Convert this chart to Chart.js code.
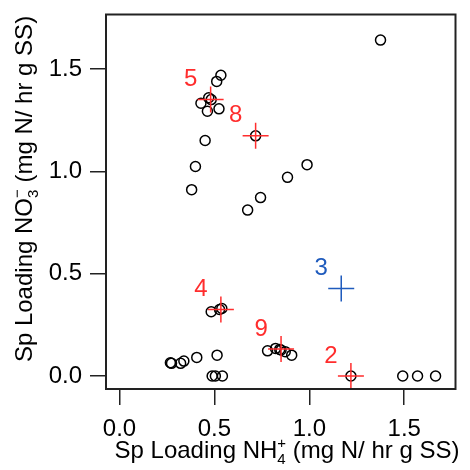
<!DOCTYPE html>
<html>
<head>
<meta charset="utf-8">
<script src="https://cdn.jsdelivr.net/npm/chart.js@4"></script>
<style>
  body { margin: 0; background: #fff; }
  #wrap { width: 470px; height: 470px; }
</style>
</head>
<body>
<div id="wrap"><canvas id="myChart" width="470" height="470"></canvas></div>
<script>
// open circles (all samples)
const sampleX = [1.375, 0.534, 0.512, 0.483, 0.470, 0.429, 0.463, 0.524, 0.717, 0.451, 0.400, 0.988,
                 0.885, 0.380, 0.743, 0.675, 0.483, 0.539, 0.527, 0.268, 0.274, 0.322, 0.339, 0.407,
                 0.514, 0.488, 0.505, 0.542, 0.780, 0.822, 0.844, 0.851, 0.873, 0.907, 1.219, 1.492,
                 1.570, 1.665];
const sampleY = [1.642, 1.470, 1.440, 1.351, 1.360, 1.333, 1.294, 1.306, 1.174, 1.151, 1.024, 1.033,
                 0.971, 0.911, 0.872, 0.811, 0.314, 0.330, 0.325, 0.065, 0.062, 0.062, 0.073, 0.091,
                 0.102, 0.000, 0.000, 0.000, 0.123, 0.135, 0.130, 0.127, 0.119, 0.102, 0.000, 0.000,
                 0.000, 0.000];

// numbered reactors (crosses)
const redIds = ["5", "8", "4", "9", "2"];
const redX = [0.480, 0.717, 0.534, 0.851, 1.219];
const redY = [1.351, 1.174, 0.325, 0.132, 0.000];
const blueIds = ["3"];
const blueX = [1.168];
const blueY = [0.428];

const xTicks = [0, 0.5, 1.0, 1.5];
const yTicks = [0, 0.5, 1.0, 1.5];

const FONT = "'Liberation Sans', Arial, Helvetica, sans-serif";
const RED = "#ff2d2d";
const BLUE = "#1f5bbd";

const toPts = (xs, ys) => xs.map((x, i) => ({ x: x, y: ys[i] }));

// box, axis titles and cross numbers
const extras = {
    id: "extras",
    afterDraw(chart) {
        const { ctx, chartArea: ca, scales } = chart;
        ctx.save();
        ctx.strokeStyle = "#222";
        ctx.lineWidth = 2;
        ctx.strokeRect(ca.left, ca.top, ca.right - ca.left, ca.bottom - ca.top);

        // numbers next to crosses
        ctx.font = "24px " + FONT;
        ctx.textAlign = "center";
        ctx.textBaseline = "middle";
        const lab = (ids, xs, ys, col) => {
            ids.forEach((id, i) => {
                ctx.fillStyle = col;
                ctx.fillText(id, scales.x.getPixelForValue(xs[i]) - 20, scales.y.getPixelForValue(ys[i]) - 20);
            });
        };
        lab(redIds, redX, redY, RED);
        lab(blueIds, blueX, blueY, BLUE);

        // axis title with stacked sup/sub
        const title = (pre, sup, sub, post) => {
            ctx.font = "24px " + FONT;
            const w1 = ctx.measureText(pre).width;
            const w3 = ctx.measureText(post).width;
            ctx.font = "15px " + FONT;
            const w2 = Math.max(ctx.measureText(sup).width, ctx.measureText(sub).width);
            return { w: w1 + w2 + w3, draw(x0, base) {
                ctx.fillStyle = "#000";
                ctx.textAlign = "left";
                ctx.textBaseline = "alphabetic";
                ctx.font = "24px " + FONT;
                ctx.fillText(pre, x0, base);
                ctx.font = "15px " + FONT;
                ctx.fillText(sup, x0 + w1, base - 10);
                ctx.fillText(sub, x0 + w1, base + 6);
                ctx.font = "24px " + FONT;
                ctx.fillText(post, x0 + w1 + w2, base);
            } };
        };
        const xt = title("Sp Loading NH", "+", "4", " (mg N/ hr g SS)");
        xt.draw(287 - xt.w / 2, 458);
        const yt = title("Sp Loading NO", "\u2212", "3", " (mg N/ hr g SS)");
        ctx.translate(32, 189);
        ctx.rotate(-Math.PI / 2);
        yt.draw(-yt.w / 2, 0);
        ctx.restore();
    }
};

new Chart(document.getElementById("myChart"), {
    type: "scatter",
    data: {
        datasets: [{
            data: toPts(blueX, blueY),
            pointStyle: "cross",
            radius: 13,
            borderColor: BLUE,
            borderWidth: 1.5,
            order: 0
        }, {
            data: toPts(redX, redY),
            pointStyle: "cross",
            radius: 13,
            borderColor: RED,
            borderWidth: 1.5,
            order: 1
        }, {
            data: toPts(sampleX, sampleY),
            pointStyle: "circle",
            radius: 5,
            borderColor: "#000",
            backgroundColor: "rgba(0,0,0,0)",
            borderWidth: 1.5,
            order: 2
        }]
    },
    options: {
        responsive: false,
        animation: false,
        events: [],
        layout: { padding: { top: 14, right: 2, left: 0, bottom: 0 } },
        plugins: { legend: { display: false }, tooltip: { enabled: false } },
        scales: {
            x: {
                min: -0.0712, max: 1.770,
                afterFit: (s) => { s.height = 81; s.paddingLeft = 0; s.paddingRight = 0; },
                afterBuildTicks: (s) => { s.ticks = xTicks.map(v => ({ value: v })); },
                grid: { drawOnChartArea: false, tickLength: 16, color: "#222", lineWidth: 1.5 },
                border: { display: false },
                ticks: { color: "#000", padding: 10, font: { size: 24, family: FONT },
                         callback: (v) => v.toFixed(1) }
            },
            y: {
                min: -0.0634, max: 1.767,
                afterFit: (s) => { s.width = 106; s.paddingTop = 0; s.paddingBottom = 0; },
                afterBuildTicks: (s) => { s.ticks = yTicks.map(v => ({ value: v })); },
                grid: { drawOnChartArea: false, tickLength: 16, color: "#222", lineWidth: 1.5 },
                border: { display: false },
                ticks: { color: "#000", padding: 8, font: { size: 24, family: FONT },
                         callback: (v) => v.toFixed(1) }
            }
        }
    },
    plugins: [extras]
});
</script>
</body>
</html>
